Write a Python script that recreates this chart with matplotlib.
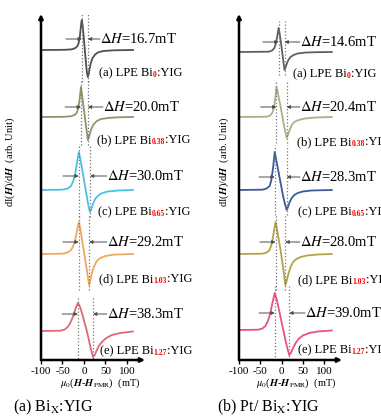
import matplotlib
matplotlib.use("Agg")
import matplotlib.pyplot as plt

plt.rcParams['font.family'] = ['Liberation Serif', 'DejaVu Serif']
plt.rcParams['mathtext.fontset'] = 'stix'

# sample labels
letters = ['a', 'b', 'c', 'd', 'e']
bi_content = ['0', '0.38', '0.65', '1.03', '1.27']
left_dH = ['16.7', '20.0', '30.0', '29.2', '38.3']
right_dH = ['14.6', '20.4', '28.3', '28.0', '39.0']
ticks = [-100, -50, 0, 50, 100]

# (a) Bi_x:YIG  -- field (mT) and signal (arb.)
la_x = [-100, -45, -30, -22, -17, -13, -10, -8, -6, -5, -3, -1, 1, 3, 5, 7, 9, 11, 13, 16, 20, 26, 32, 45, 70, 114]
la_y = [0, 0.2, 0.6, 1.5, 3, 6, 12, 20, 28, 30, 24, 15, 5, -5, -15, -23, -27, -24, -19, -13, -8, -4.5, -2.5, -1, -0.3, 0]
lb_x = [-100, -45, -30, -22, -17, -13, -10, -7, -5, -3, -1, 1, 3, 5, 7, 9, 11, 14, 18, 23, 30, 40, 55, 80, 114]
lb_y = [0, 0.2, 0.8, 2, 4, 9, 18, 30, 23, 17, 10, 4, -3, -10, -16, -23, -21, -16, -11, -7, -4, -2, -1, -0.3, 0]
lc_x = [-100, -50, -38, -30, -25, -20, -16, -12, -8, -4, 0, 4, 8, 11, 14, 17, 21, 26, 32, 40, 55, 80, 114]
lc_y = [0, 0.3, 1.5, 4, 9, 17, 28, 38, 30, 20, 10, 0, -10, -17, -22, -19, -14, -9, -6, -3.5, -1.5, -0.5, 0]
ld_x = [-100, -50, -38, -30, -25, -20, -16, -12, -8, -4, 0, 4, 8, 12, 15, 19, 24, 30, 38, 50, 70, 114]
ld_y = [0, 0.3, 1.5, 4, 8, 15, 24, 32, 24, 13, 2, -9, -20, -31, -26, -18, -12, -7, -4, -2, -0.6, 0]
le_x = [-100, -55, -45, -38, -32, -26, -20, -14, -9, -4, 1, 6, 11, 16, 21, 25, 30, 36, 44, 52, 65, 85, 114]
le_y = [0, 0.3, 1.5, 4, 8, 14, 22, 28, 24, 17, 9, 1, -8, -18, -26, -24, -19, -14, -10, -7, -4, -2, -0.5]

# (b) Pt/ Bi_x:YIG
ra_x = [-100, -30, -22, -17, -13, -10, -7, -4, -1, 2, 5, 7, 9, 12, 16, 21, 28, 38, 55, 80, 118]
ra_y = [0, 0.3, 1.5, 4, 9, 16, 24, 17, 8, -2, -12, -18, -16, -12, -8, -5, -3, -1.5, -0.6, -0.2, 0]
rb_x = [-100, -35, -27, -22, -18, -15, -12, -9, -6, -3, 0, 3, 6, 9, 12, 15, 19, 24, 30, 40, 55, 80, 118]
rb_y = [0, 0.3, 1.5, 4, 9, 18, 30, 25, 18, 12, 5, -2, -9, -15, -21, -18, -13, -8, -5, -3, -1.5, -0.5, 0]
rc_x = [-100, -45, -35, -28, -24, -20, -16, -12, -8, -4, 0, 4, 8, 12, 15, 19, 24, 30, 38, 50, 70, 118]
rc_y = [0, 0.3, 1.5, 4, 10, 22, 38, 29, 20, 11, 2, -7, -14, -20, -17, -12, -8, -5, -3, -1.5, -0.5, 0]
rd_x = [-100, -45, -35, -28, -24, -20, -17, -14, -10, -6, -2, 2, 6, 9, 12, 16, 21, 27, 35, 45, 60, 85, 118]
rd_y = [0, 0.3, 1.5, 4, 9, 17, 25, 32, 23, 13, 3, -9, -21, -31, -27, -20, -13, -8, -5, -3, -1.5, -0.5, 0]
re_x = [-100, -55, -45, -38, -32, -27, -22, -16, -11, -6, -1, 4, 9, 14, 18, 22, 27, 33, 40, 50, 65, 85, 118]
re_y = [0, 0.3, 1.5, 4, 9, 16, 26, 37, 30, 20, 10, 0, -10, -19, -25, -23, -18, -13, -9, -5.5, -3, -1.5, -0.5]

left_colors = ['#505050', '#86986c', '#4cc0e4', '#f0a85c', '#e06878']
right_colors = ['#606060', '#a4b486', '#3c5a98', '#b4a448', '#e8508a']


def draw_panel(ax, xs, ys, colors, dH, baselines, arrow_y, text_x, lab_x, lab_y):
    ax.set_xlim(-100, 142)
    ax.set_ylim(0, 346)
    for sp in ax.spines.values():
        sp.set_visible(False)
    ax.set_yticks([])
    ax.set_xticks(ticks)
    ax.set_xticklabels([str(t) for t in ticks])
    ax.tick_params(axis='x', length=3, width=1, labelsize=8, pad=2)
    ax.patch.set_alpha(0)

    arr = dict(arrowstyle='-|>', lw=1.8, color='k', mutation_scale=6, shrinkA=0, shrinkB=0)
    ax.annotate('', xy=(0, 1), xytext=(0, 0), xycoords='axes fraction', arrowprops=arr)
    ax.annotate('', xy=(1, 0), xytext=(0, 0), xycoords='axes fraction', arrowprops=arr)

    for i in range(5):
        base = baselines[i]
        ax.plot(xs[i], [base + v for v in ys[i]], color=colors[i], lw=1.3)
        ipk = ys[i].index(max(ys[i]))
        itr = ys[i].index(min(ys[i]))
        xp, xt = xs[i][ipk], xs[i][itr]
        top = base + ys[i][ipk] + 7
        bot = base + ys[i][itr] - 5
        ax.plot([xp, xp], [bot, top], ls=':', color='0.45', lw=0.9)
        ax.plot([xt, xt], [bot, top], ls=':', color='0.45', lw=0.9)

        y = arrow_y[i]
        small = dict(arrowstyle='-|>', lw=0.7, color='0.3', mutation_scale=5, shrinkA=0, shrinkB=0)
        ax.annotate('', xy=(xp, y), xytext=(xp - 37, y), arrowprops=small)
        ax.annotate('', xy=(xt, y), xytext=(text_x[i], y), arrowprops=small)
        ax.text(text_x[i] + 1, y, r'$\Delta\mathit{H}$=' + dH[i] + 'mT',
                va='center', ha='left', fontsize=10.5, clip_on=False)

        t1 = ax.text(lab_x[i], lab_y[i], '(' + letters[i] + ') LPE Bi',
                     fontsize=9, va='center', ha='left', clip_on=False)
        t2 = ax.annotate(bi_content[i], xy=(1, 0), xycoords=t1, fontsize=5.5,
                         color='red', va='bottom', ha='left', fontweight='bold')
        ax.annotate(':YIG', xy=(1, 0), xycoords=(t2, t1), fontsize=9,
                    va='bottom', ha='left')


fig = plt.figure(figsize=(3.81, 4.17), dpi=100)
W, H = 381.0, 417.0
ax1 = fig.add_axes([41 / W, 1 - 360 / H, 104 / W, 346 / H])
ax2 = fig.add_axes([239 / W, 1 - 360 / H, 103 / W, 346 / H])

draw_panel(ax1, [la_x, lb_x, lc_x, ld_x, le_x], [la_y, lb_y, lc_y, ld_y, le_y],
           left_colors, left_dH,
           baselines=[310, 243, 170, 106, 29],
           arrow_y=[321, 253, 184, 118, 46],
           text_x=[37, 44, 53, 53, 53],
           lab_x=[35, 30, 32, 35, 37],
           lab_y=[287, 220, 148, 81, 9])
draw_panel(ax2, [ra_x, rb_x, rc_x, rd_x, re_x], [ra_y, rb_y, rc_y, rd_y, re_y],
           right_colors, right_dH,
           baselines=[308, 243, 170, 106, 30],
           arrow_y=[318, 253, 183, 118, 47],
           text_x=[43, 43, 43, 43, 55],
           lab_x=[27, 36, 39, 39, 39],
           lab_y=[286, 218, 148, 80, 10])

xlab = r'$\mu_0$($\mathbfit{H}$-$\mathbfit{H}_{\mathrm{FMR}}$)  (mT)'
ylab = r'dI($\mathbfit{H}$)/d$\mathbfit{H}$  (arb. Unit)'
fig.text(100 / W, 1 - 383 / H, xlab, fontsize=7.5, ha='center', va='center')
fig.text(296 / W, 1 - 383 / H, xlab, fontsize=7.5, ha='center', va='center')
fig.text(10 / W, 1 - 162 / H, ylab, fontsize=7.5, ha='center', va='center', rotation=90)
fig.text(224 / W, 1 - 162 / H, ylab, fontsize=7.5, ha='center', va='center', rotation=90)

fig.text(13 / W, 1 - 407 / H, r'(a) Bi$_{\mathrm{X}}$:YIG', fontsize=11.5, ha='left', va='center')
fig.text(217 / W, 1 - 407 / H, r'(b) Pt/ Bi$_{\mathrm{X}}$:YIG', fontsize=11.5, ha='left', va='center')

fig.savefig('out.png', dpi=100)
